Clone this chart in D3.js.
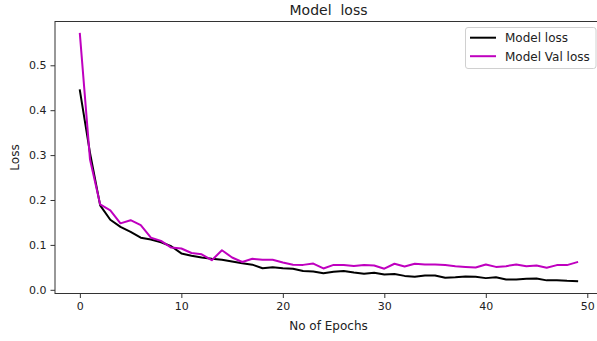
<!DOCTYPE html>
<html>
<head>
<meta charset="utf-8">
<script src="https://cdn.jsdelivr.net/npm/d3@7"></script>
<style>
  html, body { margin: 0; padding: 0; background: #fff; overflow: hidden; }
  svg { display: block; font-family: "DejaVu Sans", sans-serif; }
</style>
</head>
<body>
<svg id="chart" width="597" height="341"></svg>
<script>
// Training history: loss per epoch
const epochs = d3.range(0, 50);
const modelLoss = [
  0.444, 0.305, 0.188, 0.156, 0.140, 0.129, 0.116, 0.112, 0.106, 0.097,
  0.081, 0.076, 0.072, 0.069, 0.067, 0.063, 0.059, 0.056, 0.048, 0.050,
  0.048, 0.047, 0.042, 0.041, 0.037, 0.040, 0.042, 0.0385, 0.036, 0.038,
  0.034, 0.035, 0.031, 0.029, 0.032, 0.032, 0.027, 0.028, 0.0297, 0.029,
  0.026, 0.028, 0.023, 0.023, 0.0245, 0.025, 0.021, 0.0215, 0.020, 0.0193
];
const valLoss = [
  0.570, 0.290, 0.190, 0.177, 0.148, 0.155, 0.144, 0.116, 0.109, 0.094,
  0.092, 0.082, 0.079, 0.066, 0.088, 0.072, 0.062, 0.069, 0.067, 0.067,
  0.061, 0.056, 0.0555, 0.0585, 0.0475, 0.0555, 0.0555, 0.053, 0.0555, 0.054,
  0.047, 0.058, 0.052, 0.058, 0.0565, 0.0565, 0.055, 0.0527, 0.051, 0.0497,
  0.0565, 0.051, 0.0527, 0.0565, 0.0527, 0.054, 0.049, 0.055, 0.055, 0.0615
];
const xTicks = [0, 10, 20, 30, 40, 50];
const yTicks = [0.0, 0.1, 0.2, 0.3, 0.4, 0.5];
const seriesNames = ["Model loss", "Model Val loss"];
const seriesColors = ["#000000", "#bf00bf"];

const svg = d3.select("#chart");
const plot = { left: 55, right: 602, top: 21.5, bottom: 293.5 };

// Axis limits padded by 5% of the data span on each side
function padded(lo, hi) {
  const m = (hi - lo) * 0.05;
  return [lo - m, hi + m];
}
const allY = modelLoss.concat(valLoss);
const x = d3.scaleLinear()
  .domain(padded(d3.min(epochs), d3.max(epochs)))
  .range([plot.left, plot.right]);
const y = d3.scaleLinear()
  .domain(padded(d3.min(allY), d3.max(allY)))
  .range([plot.bottom, plot.top]);

// Lines
const line = d3.line()
  .x((d, i) => x(epochs[i]))
  .y(d => y(d));

[modelLoss, valLoss].forEach((series, k) => {
  svg.append("path")
    .datum(series)
    .attr("d", line)
    .attr("fill", "none")
    .attr("stroke", seriesColors[k])
    .attr("stroke-width", 2)
    .attr("stroke-linejoin", "round")
    .attr("stroke-linecap", "square");
});

// Frame
svg.append("rect")
  .attr("x", plot.left)
  .attr("y", plot.top)
  .attr("width", plot.right - plot.left)
  .attr("height", plot.bottom - plot.top)
  .attr("fill", "none")
  .attr("stroke", "#333")
  .attr("stroke-width", 1);

// Axes
const xAxis = d3.axisBottom(x)
  .tickValues(xTicks)
  .tickFormat(d3.format("d"))
  .tickSize(4.5)
  .tickPadding(4);
const yAxis = d3.axisLeft(y)
  .tickValues(yTicks)
  .tickFormat(d3.format(".1f"))
  .tickSize(4.5)
  .tickPadding(4);

const gx = svg.append("g")
  .attr("transform", `translate(0,${plot.bottom})`)
  .call(xAxis);
const gy = svg.append("g")
  .attr("transform", `translate(${plot.left},0)`)
  .call(yAxis);

[gx, gy].forEach(g => {
  g.select(".domain").remove();
  g.selectAll(".tick line").attr("stroke", "#333").attr("stroke-width", 1);
  g.selectAll(".tick text")
    .attr("fill", "#222")
    .style("font-family", "DejaVu Sans")
    .style("font-size", "11px");
});

// Title and axis labels
svg.append("text")
  .attr("x", (plot.left + plot.right) / 2)
  .attr("y", 15)
  .attr("text-anchor", "middle")
  .attr("fill", "#222")
  .style("font-size", "14px")
  .style("white-space", "pre")
  .attr("xml:space", "preserve")
  .text("Model  loss");

svg.append("text")
  .attr("x", (plot.left + plot.right) / 2)
  .attr("y", 330)
  .attr("text-anchor", "middle")
  .attr("fill", "#222")
  .style("font-size", "12px")
  .text("No of Epochs");

svg.append("text")
  .attr("transform", `translate(19,${(plot.top + plot.bottom) / 2}) rotate(-90)`)
  .attr("text-anchor", "middle")
  .attr("fill", "#222")
  .style("font-size", "12px")
  .text("Loss");

// Legend
const legend = svg.append("g");
legend.append("rect")
  .attr("x", 465.5)
  .attr("y", 27.5)
  .attr("width", 130.5)
  .attr("height", 41)
  .attr("rx", 2.5)
  .attr("fill", "#fff")
  .attr("fill-opacity", 0.8)
  .attr("stroke", "#d0d0d0")
  .attr("stroke-width", 1);

seriesNames.forEach((name, k) => {
  const cy = 37.7 + k * 18.5;
  legend.append("line")
    .attr("x1", 470).attr("x2", 496)
    .attr("y1", cy).attr("y2", cy)
    .attr("stroke", seriesColors[k])
    .attr("stroke-width", 2);
  legend.append("text")
    .attr("x", 505)
    .attr("y", cy + 4.3)
    .attr("fill", "#222")
    .style("font-size", "12px")
    .text(name);
});
</script>
</body>
</html>
